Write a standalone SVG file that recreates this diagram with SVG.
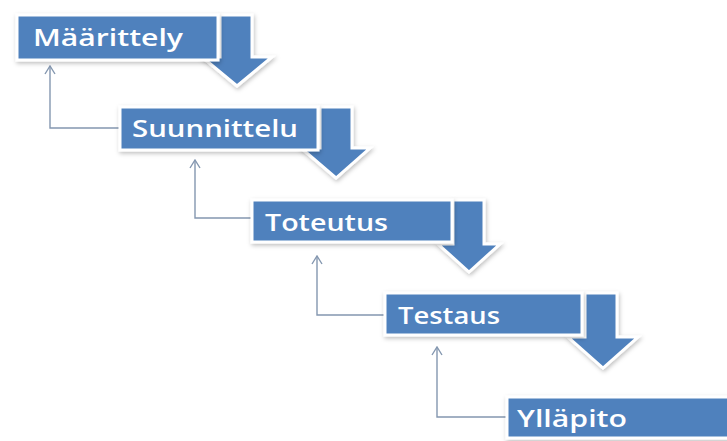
<svg xmlns="http://www.w3.org/2000/svg" width="727" height="441" viewBox="0 0 727 441">
<defs>
<filter id="sh" x="-10%" y="-20%" width="130%" height="150%">
<feDropShadow dx="1" dy="2" stdDeviation="2" flood-color="#000" flood-opacity="0.25"/>
</filter>
<marker id="ah" markerWidth="12" markerHeight="12" refX="11" refY="6" orient="auto" markerUnits="userSpaceOnUse" viewBox="0 0 12 12">
<path d="M3,1 L11,6 L3,11" fill="none" stroke="#8497b0" stroke-width="1.4"/>
</marker>
</defs>
<style>
.box{fill:#4f81bd;stroke:#fff;stroke-width:3;filter:url(#sh)}
.arr{fill:#4f81bd;stroke:#fff;stroke-width:3;stroke-linejoin:miter;filter:url(#sh)}
.lbl{font-family:"Open Sans","Liberation Sans",sans-serif;font-weight:600;font-size:23px;fill:#fff}
.fb{fill:none;stroke:#8497b0;stroke-width:1.4}
</style>
<rect width="727" height="441" fill="#fff"/>
<g id="connectors">
<path class="fb" d="M120,128 H50 V66" marker-end="url(#ah)"/>
<path class="fb" d="M252,218 H195 V160" marker-end="url(#ah)"/>
<path class="fb" d="M385,315 H317 V256" marker-end="url(#ah)"/>
<path class="fb" d="M507,417 H437 V347" marker-end="url(#ah)"/>
<polygon class="arr" points="220,15 252,15 252,57 272,57 237,86 202,57 220,57"/>
<polygon class="arr" points="320,107 352,107 352,148 370,148 336,178 301,148 320,148"/>
<polygon class="arr" points="453,200 484,200 484,244 500,244 469,272 438,244 453,244"/>
<polygon class="arr" points="585,293 617,293 617,337 638,337 603,368 568,337 585,337"/>
</g>
<g id="n1">
<rect class="box" x="17" y="15" width="201" height="45"/>
<text class="lbl" x="33" y="46" textLength="150" lengthAdjust="spacingAndGlyphs">Määrittely</text>
</g>
<g id="n2">
<rect class="box" x="120" y="107" width="198" height="43"/>
<text class="lbl" x="132" y="137" textLength="166" lengthAdjust="spacingAndGlyphs">Suunnittelu</text>
</g>
<g id="n3">
<rect class="box" x="252" y="200" width="200" height="42"/>
<text class="lbl" x="265" y="231" textLength="123" lengthAdjust="spacingAndGlyphs">Toteutus</text>
</g>
<g id="n4">
<rect class="box" x="385" y="293" width="197" height="42"/>
<text class="lbl" x="398" y="324" textLength="102" lengthAdjust="spacingAndGlyphs">Testaus</text>
</g>
<g id="n5">
<rect class="box" x="507" y="397" width="240" height="41"/>
<text class="lbl" x="517" y="427" textLength="110" lengthAdjust="spacingAndGlyphs">Ylläpito</text>
</g>
</svg>
